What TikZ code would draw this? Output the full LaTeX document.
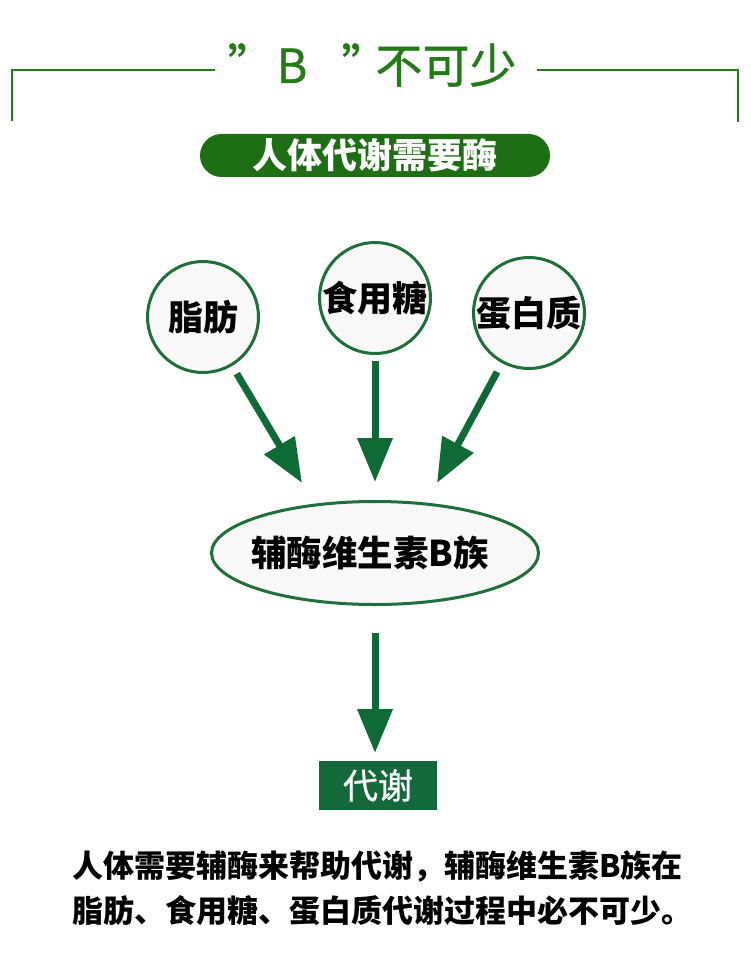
\documentclass[tikz,border=0pt]{standalone}
\usepackage{fontspec}
\newfontfamily\cjk{Noto Sans CJK SC}
\newfontfamily\cjkmed[FakeBold=0.8]{Noto Sans CJK SC}
\usetikzlibrary{arrows.meta,shapes.geometric}
\definecolor{titlegreen}{HTML}{237A17}
\definecolor{bannergreen}{HTML}{1E6E14}
\definecolor{ringgreen}{HTML}{1F6E3B}
\definecolor{arrowgreen}{HTML}{0E6B35}
\definecolor{boxgreen}{HTML}{13693A}
\definecolor{nodefill}{HTML}{F8F8F8}
\tikzset{
  frameline/.style={titlegreen, line width=2pt},
  source/.style={circle, draw=ringgreen, line width=3pt, fill=nodefill,
    minimum size=111pt, inner sep=0pt,
    font=\cjk\bfseries\fontsize{35}{35}\selectfont},
  flow/.style={arrowgreen, line width=7pt,
    -{Triangle[length=44pt, width=34pt]}},
}
\begin{document}
\begin{tikzpicture}[x=1pt, y=-1pt]
\useasboundingbox (0,0) rectangle (750,960);
\fill[white] (0,0) rectangle (750,960);

% heading with side brackets
\draw[frameline] (12,121) -- (12,70) -- (215,70);
\draw[frameline] (738,122) -- (738,70) -- (537,70);
\node[text=titlegreen, font=\cjkmed\fontsize{47}{47}\selectfont] (title) at (372,65)
  {”\hspace{2pt}B\hspace{34pt}”\hspace{-13pt}不可少};

% banner
\node[fill=bannergreen, rounded corners=21.5pt, minimum width=350pt,
  minimum height=43pt, text=white, inner sep=0pt,
  font=\cjk\bfseries\fontsize{35}{35}\selectfont] (banner) at (375,155.5)
  {人体代谢需要酶};

% nutrient circles
\node[source] (fat) at (203,317) {脂肪};
\node[source] (sugar) at (375,298) {食用糖};
\node[source] (protein) at (529,313) {蛋白质};

% coenzyme ellipse (label sits a little left of centre)
\node[ellipse, draw=ringgreen, line width=3pt, fill=nodefill,
  minimum width=327pt, minimum height=103pt, inner xsep=-25pt, inner ysep=0pt,
  font=\cjk\bfseries\fontsize{35.5}{35.5}\selectfont] (vb) at (375,553)
  {辅酶维生素B族\hspace*{10pt}};

% metabolism box
\node[fill=boxgreen, minimum width=118pt, minimum height=49pt, inner sep=0pt,
  text=white, font=\cjkmed\fontsize{35}{35}\selectfont] (meta) at (378,785.5)
  {代谢};

% arrow tips
\coordinate (t1) at (302,483);
\coordinate (t2) at (375,482);
\coordinate (t3) at (437,483);
\coordinate (t4) at (375,753);

\draw[flow, shorten <=9pt] (fat) -- (t1);
\draw[flow, shorten <=6pt] (sugar) -- (t2);
\draw[flow, shorten <=10pt] (protein) -- (t3);
\draw[flow, shorten <=27pt] (vb) -- (t4);

% caption
\node[align=left, font=\cjk\bfseries\fontsize{31}{45}\selectfont] (caption)
  at (382,888)
  {人体需要辅酶来帮助代谢，辅酶维生素B族在\\脂肪、食用糖、蛋白质代谢过程中必不可少。};
\end{tikzpicture}
\end{document}
